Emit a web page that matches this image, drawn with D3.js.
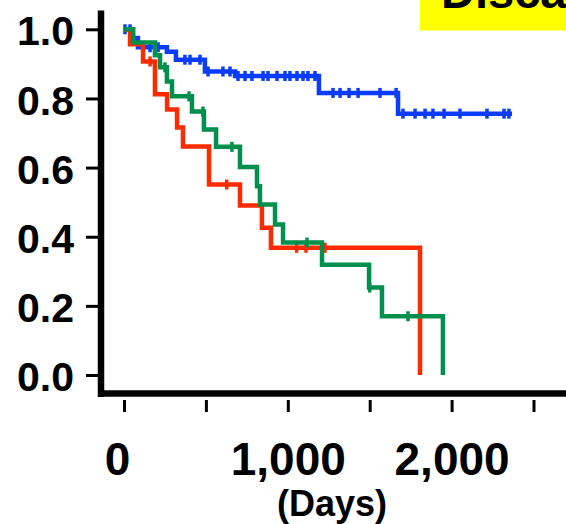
<!DOCTYPE html>
<html>
<head>
<meta charset="utf-8">
<script src="https://cdn.jsdelivr.net/npm/d3@7"></script>
<style>
  html, body { margin: 0; padding: 0; background: #fff; }
  svg { display: block; font-family: "Liberation Sans", Arial, Helvetica, sans-serif; font-weight: bold; }
</style>
</head>
<body>
<svg id="chart" width="566" height="524"></svg>
<script>
// ---- data ----
const xTicks = [0, 500, 1000, 1500, 2000, 2500];
const xTickLabels = ["0", "", "1,000", "", "2,000", ""];
const yTicks = [0, 0.2, 0.4, 0.6, 0.8, 1.0];
const yTickLabels = ["0.0", "0.2", "0.4", "0.6", "0.8", "1.0"];
const xTitle = "(Days)";
const panelTitle = "Disca";

// Kaplan–Meier step curves: event times (days) and survival after each step
const blueTimes = [0, 55, 85, 262, 317, 494, 678, 1190, 1673, 2369];
const blueSurv  = [1.0, 0.975, 0.948, 0.935, 0.912, 0.878, 0.865, 0.816, 0.756, 0.756];
const blueCensor = [6, 37, 116, 159, 208, 372, 403, 464, 513, 604, 647, 696, 739, 781, 849, 879, 934, 983, 1013, 1056, 1093, 1123, 1166, 1276, 1319, 1374, 1429, 1563, 1661, 1703, 1777, 1838, 1886, 1954, 2051, 2216, 2320, 2350];

const redTimes = [0, 37, 116, 189, 263, 324, 360, 519, 708, 842, 897, 1807];
const redSurv  = [1.0, 0.957, 0.907, 0.812, 0.768, 0.716, 0.661, 0.551, 0.49, 0.426, 0.368, 0.0];
const redCensor = [159, 627, 1054, 1111, 1227];

const greenTimes = [0, 55, 189, 220, 262, 293, 415, 488, 562, 708, 812, 830, 922, 971, 1209, 1496, 1575, 1947];
const greenSurv  = [1.0, 0.962, 0.925, 0.89, 0.849, 0.806, 0.762, 0.71, 0.66, 0.602, 0.546, 0.493, 0.435, 0.383, 0.319, 0.253, 0.17, 0.0];
const greenCensor = [250, 397, 482, 659, 1117, 1500, 1734];

// ---- drawing ----
const svg = d3.select("#chart");
const x = d3.scaleLinear().domain([0, 2500]).range([124, 533.5]);
const y = d3.scaleLinear().domain([0, 1]).range([375, 29.3]);

// yellow title box (clipped at the top-right like the reference)
svg.append("rect").attr("x", 420).attr("y", 0).attr("width", 146).attr("height", 30.5).attr("fill", "#ffff00");
svg.append("text").attr("x", 441).attr("y", 8).attr("font-size", 47).attr("fill", "#000").text(panelTitle);

// axes
const yAxis = d3.axisLeft(y).tickValues(yTicks).tickSize(12).tickPadding(12)
  .tickFormat((d, i) => yTickLabels[i]);
const gy = svg.append("g").attr("transform", "translate(98,0)").call(yAxis);
gy.select(".domain").remove();
gy.selectAll(".tick line").attr("stroke", "#000").attr("stroke-width", 3);
gy.selectAll(".tick text").attr("font-size", 41).attr("font-family", null).attr("fill", "#000").attr("dy", "0.38em");

const xAxis = d3.axisBottom(x).tickValues(xTicks).tickSize(12).tickPadding(30)
  .tickFormat((d, i) => xTickLabels[i]);
const gx = svg.append("g").attr("transform", "translate(0,400)").call(xAxis);
gx.select(".domain").remove();
gx.selectAll(".tick line").attr("stroke", "#000").attr("stroke-width", 3);
gx.selectAll(".tick text").attr("font-size", 46).attr("font-family", null).attr("fill", "#000").attr("dy", "0.71em")
  .attr("dx", d => d === 0 ? -7 : 0);

// axis lines (offset frame)
svg.append("line").attr("x1", 101).attr("x2", 101).attr("y1", 10.5).attr("y2", 397).attr("stroke", "#000").attr("stroke-width", 6.5);
svg.append("line").attr("x1", 98).attr("x2", 566).attr("y1", 393.5).attr("y2", 393.5).attr("stroke", "#000").attr("stroke-width", 6.5);

svg.append("text").attr("x", 332).attr("y", 516).attr("text-anchor", "middle").attr("font-size", 36).attr("fill", "#000").text(xTitle);

// curves
const line = d3.line().x(d => x(d[0])).y(d => y(d[1])).curve(d3.curveStepAfter);
function survAt(times, surv, t) {
  let s = surv[0];
  for (let i = 0; i < times.length; i++) if (times[i] <= t) s = surv[i];
  return s;
}
function drawCurve(times, surv, censor, color) {
  const pts = times.map((t, i) => [t, surv[i]]);
  const g = svg.append("g");
  g.append("path").attr("d", line(pts)).attr("fill", "none").attr("stroke", color)
    .attr("stroke-width", 4.5).attr("stroke-linejoin", "miter");
  g.selectAll("line.c").data(censor).join("line").attr("class", "c")
    .attr("x1", d => x(d)).attr("x2", d => x(d))
    .attr("y1", d => y(survAt(times, surv, d)) - 5)
    .attr("y2", d => y(survAt(times, surv, d)) + 5)
    .attr("stroke", color).attr("stroke-width", 3.5);
}
drawCurve(blueTimes, blueSurv, blueCensor, "#0a3cff");
drawCurve(redTimes, redSurv, redCensor, "#ff2a00");
drawCurve(greenTimes, greenSurv, greenCensor, "#008f4c");
</script>
</body>
</html>
